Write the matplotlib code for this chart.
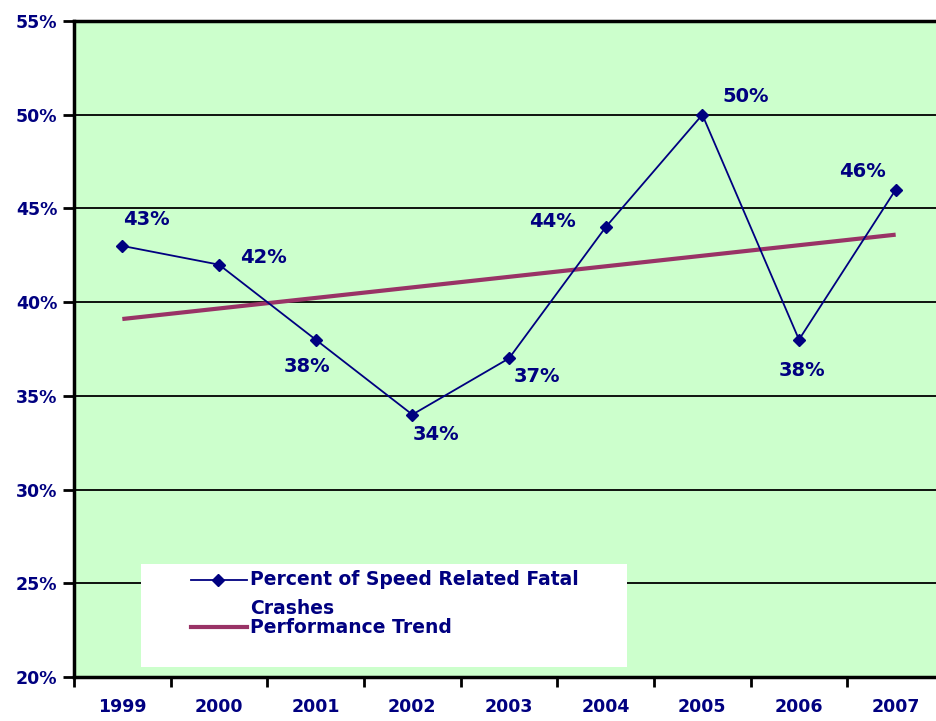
import matplotlib
matplotlib.use("Agg")
import matplotlib.pyplot as plt
from matplotlib.lines import Line2D
from matplotlib.patches import Rectangle
from matplotlib.ticker import FixedLocator, FuncFormatter

# --- data ---
years = [1999, 2000, 2001, 2002, 2003, 2004, 2005, 2006, 2007]
speed_pct = [43, 42, 38, 34, 37, 44, 50, 38, 46]
trend_years = [1999, 2007]
trend_pct = [39.1, 43.6]
# label offsets in points (dx, dy) relative to each point
label_offsets = [(17, 19), (32, 5), (-6, -19), (17, -14), (20, -13),
                 (-38, 4), (31, 13), (2, -22), (-24, 13)]

navy = '#000080'
trend_col = '#993366'

fig = plt.figure(figsize=(9.36, 7.21), dpi=100)
ax = fig.add_axes([74 / 936, 1 - 677 / 721, 870 / 936, 656 / 721])
ax.set_facecolor('#CCFFCC')

x = list(range(len(years)))
tx = [years.index(y) for y in trend_years]

# gridlines
for v in range(20, 56, 5):
    ax.axhline(v, color='black', lw=1.3, zorder=1)

ax.plot(tx, trend_pct, color=trend_col, lw=3, zorder=2, solid_capstyle='butt')
ax.plot(x, speed_pct, color=navy, lw=1.3, marker='D', markersize=6.5, zorder=3)

for i, v in enumerate(speed_pct):
    dx, dy = label_offsets[i]
    ax.annotate(f'{v}%', (x[i], v), xytext=(dx, dy), textcoords='offset points',
                ha='center', va='center', color=navy, fontsize=14, fontweight='bold')

ax.set_xlim(-0.5, len(years) - 0.5)
ax.set_ylim(20, 55)
ax.set_yticks(range(20, 56, 5))
ax.yaxis.set_major_formatter(FuncFormatter(lambda v, p: f'{int(v)}%'))

# x ticks between categories, labels at the centres
ax.xaxis.set_major_locator(FixedLocator([i - 0.5 for i in range(len(years) + 1)]))
ax.set_xticklabels([])
ax.set_xticks(x, minor=True)
ax.set_xticklabels([str(y) for y in years], minor=True)
ax.tick_params(axis='x', which='major', length=7, width=2, direction='out')
ax.tick_params(axis='x', which='minor', length=0, pad=15)
ax.tick_params(axis='y', length=8, width=2, direction='out', pad=4)
for lab in ax.get_xticklabels(minor=True) + ax.get_yticklabels():
    lab.set_color(navy)
    lab.set_fontweight('bold')
    lab.set_fontsize(12.5)

for s in ['left', 'bottom', 'top']:
    ax.spines[s].set_linewidth(2.5)
ax.spines['right'].set_visible(False)

# legend box drawn by hand to keep the wrapped label layout
ax.add_patch(Rectangle((0.077, 0.015), 0.559, 0.157, transform=ax.transAxes,
                       facecolor='white', edgecolor='none', zorder=5))
ax.add_line(Line2D([0.134, 0.166, 0.199], [0.148, 0.148, 0.148], transform=ax.transAxes,
                   color=navy, lw=1.3, marker='D', markersize=6.5,
                   markevery=[1], zorder=6))
ax.add_line(Line2D([0.134, 0.199], [0.076, 0.076], transform=ax.transAxes,
                   color=trend_col, lw=3, zorder=6))
ax.text(0.202, 0.148, 'Percent of Speed Related Fatal', transform=ax.transAxes,
        color=navy, fontsize=13.5, fontweight='bold', va='center', zorder=7)
ax.text(0.202, 0.105, 'Crashes', transform=ax.transAxes,
        color=navy, fontsize=13.5, fontweight='bold', va='center', zorder=7)
ax.text(0.202, 0.075, 'Performance Trend', transform=ax.transAxes,
        color=navy, fontsize=13.5, fontweight='bold', va='center', zorder=7)

fig.savefig('out.png', dpi=100)
